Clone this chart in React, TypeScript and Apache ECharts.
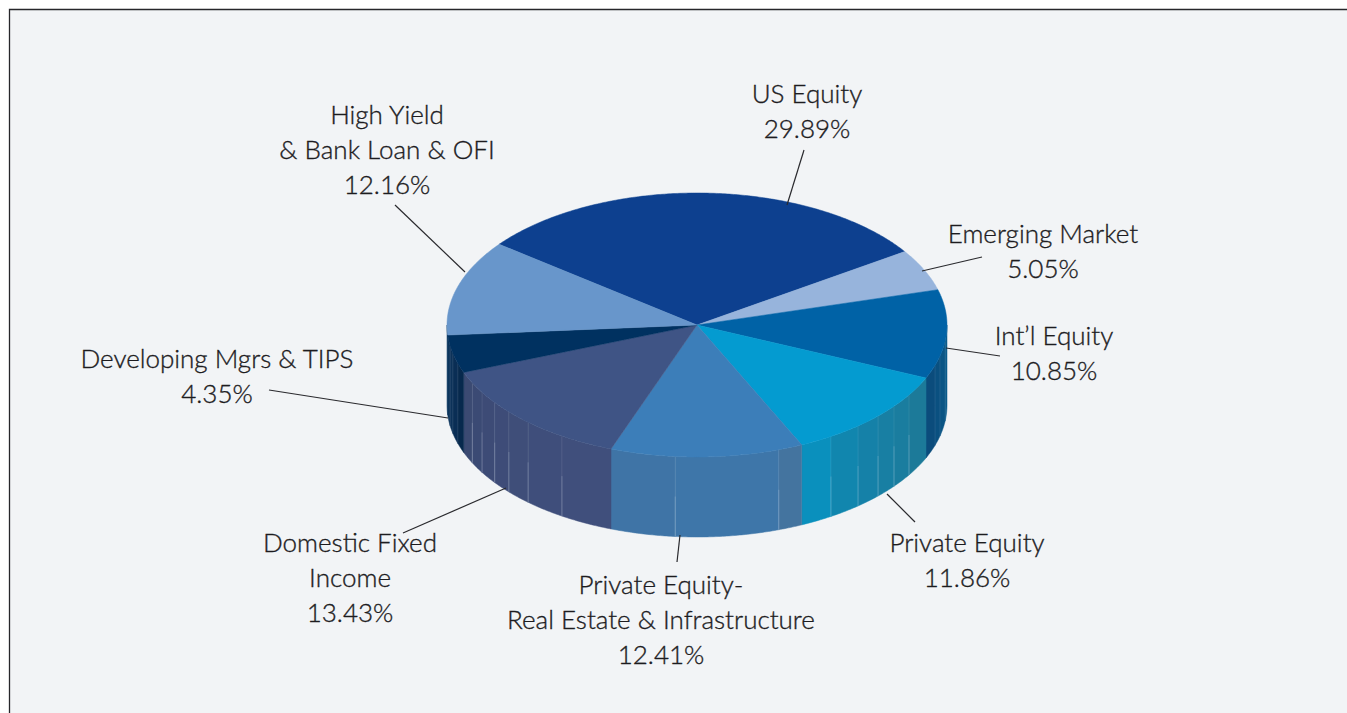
import React, { useEffect, useRef } from "react";
import * as echarts from "echarts";

const categories = ["US Equity", "Emerging Market", "Int\u2019l Equity", "Private Equity", "Private Equity-\nReal Estate & Infrastructure", "Domestic Fixed\nIncome", "Developing Mgrs & TIPS", "High Yield\n& Bank Loan & OFI"];
const values = [29.89, 5.05, 10.85, 11.86, 12.41, 13.43, 4.35, 12.16];
const topColors = ["#0d408f", "#97b4dc", "#0062a6", "#049bd0", "#3c7eb9", "#3f5485", "#003160", "#6896cb"];

// small per-boundary correction (degrees) for the picture's projection of the disc
const boundaryWarp = [-1.7, -0.8, -0.7, -0.6, -1.7, -1.5, -1, 0, -1.7];

// interior facet edges on the rim (degrees clockwise from top) and their shades
const facetEdges = [
  [],
  [],
  [90, 97, 103.6, 107.8],
  [122, 128, 133.6, 139.9, 147.6],
  [160.9, 185],
  [212.7, 222.5, 228.8, 234, 239.3, 244],
  [253, 257.5, 261],
  [],
];
const facetColors = [
  [],
  [],
  ["#0a5b8b", "#0a5585", "#0a5080", "#0b4c7c"],
  ["#1c7a99", "#1a7d9f", "#187fa3", "#1581a8", "#1186ae", "#0a90bd"],
  ["#44749f", "#3e76a9", "#3f74a6"],
  ["#404f7c", "#3f4e7b", "#3f4e79", "#3e4c78", "#3d4b76", "#3b4a74", "#3b4a72"],
  ["#07294d", "#0a2e55", "#0c3259", "#0d355c"],
  ["#0f3a63"],
];

const labelAnchors = [
  [807, 75], [1043, 215], [1054, 317], [967, 524], [661, 566], [350, 524], [217, 340], [387, 96],
];
const leaders = [
  [787, 205, 804, 150], [922, 271, 982, 257], [946, 348, 1000, 356], [887, 494, 915, 522],
  [680, 535, 677, 562], [506, 488, 403, 533], [448, 418, 269, 390], [465, 272, 395, 205],
];

const CX = 697, CY = 325, RX = 250, RY = 132, DEPTH = 80, START = -50.6;
const total = values.reduce((a, b) => a + b, 0);
const boundary = (i: number) => {
  const before = values.slice(0, i).reduce((a, b) => a + b, 0);
  return START + (before / total) * 360 + boundaryWarp[i];
};
const rim = (deg: number, dy = 0) => {
  const r = (deg * Math.PI) / 180;
  return [CX + RX * Math.sin(r), CY - RY * Math.cos(r) + dy];
};
const arc = (a: number, b: number, dy = 0) => {
  const pts: number[][] = [];
  const n = Math.max(2, Math.ceil(Math.abs(b - a) / 0.5));
  for (let i = 0; i <= n; i++) pts.push(rim(a + ((b - a) * i) / n, dy));
  return pts;
};

function renderTop(params: any) {
  const i = params.dataIndex;
  return {
    type: "polygon",
    shape: { points: [[CX, CY], ...arc(boundary(i), boundary(i + 1))] },
    style: { fill: topColors[i], stroke: topColors[i], lineWidth: 0.5 },
  };
}

function renderSide(params: any) {
  const i = params.dataIndex;
  const a = Math.max(boundary(i), 90);
  const b = Math.min(boundary(i + 1), 270);
  if (a >= b) return { type: "group", children: [] };
  const edges = [a, ...facetEdges[i].filter((e) => e > a && e < b), b];
  const children: any[] = [];
  for (let k = 0; k + 1 < edges.length; k++) {
    const top = arc(edges[k], edges[k + 1]);
    const bottom = arc(edges[k + 1], edges[k], DEPTH);
    const col = facetColors[i][k] || facetColors[i][facetColors[i].length - 1];
    children.push({
      type: "polygon",
      shape: { points: [...top, ...bottom] },
      style: { fill: col, stroke: col, lineWidth: 0.5 },
    });
    if (k > 0) {
      const p = rim(edges[k]);
      const mid = p[1] + DEPTH * 0.5;
      children.push(
        { type: "line", shape: { x1: p[0], y1: p[1], x2: p[0], y2: mid }, style: { stroke: "rgba(225,235,245,0.1)", lineWidth: 1 } },
        { type: "line", shape: { x1: p[0], y1: mid, x2: p[0], y2: p[1] + DEPTH }, style: { stroke: i === 2 || i === 6 ? "rgba(225,235,245,0.1)" : "rgba(225,235,245,0.3)", lineWidth: 1 } }
      );
    }
  }
  return { type: "group", children };
}

const FONT = "Lato";
const graphics: any[] = [
  { type: "rect", z: -1, shape: { x: 9.5, y: 9.5, width: 1400, height: 800 }, style: { fill: "#f2f4f6", stroke: "#26262a", lineWidth: 1.3 } },
  ...leaders.map((l) => ({
    type: "line", z: 5,
    shape: { x1: l[0], y1: l[1], x2: l[2], y2: l[3] },
    style: { stroke: "#2a2a2e", lineWidth: 1.2 },
  })),
  ...categories.map((c, i) => ({
    type: "text", z: 6,
    x: labelAnchors[i][0], y: labelAnchors[i][1],
    style: {
      text: `${c}\n${values[i].toFixed(2)}%`,
      fill: "#1d1c1f", stroke: "#1d1c1f", lineWidth: 0.35, font: `300 26px ${FONT}`, lineHeight: 35,
      align: "center", verticalAlign: "top", textAlign: "center",
    },
  })),
];

export default function App() {
  const ref = useRef<HTMLDivElement>(null);
  useEffect(() => {
    document.body.style.margin = "0";
    document.body.style.background = "#fff";
    const chart = echarts.init(ref.current!, undefined, { renderer: "svg" });
    const data = values.map((v, i) => ({ name: categories[i], value: v }));
    chart.setOption({
      animation: false,
      backgroundColor: "#ffffff",
      graphic: { elements: graphics },
      series: [
        { type: "custom", coordinateSystem: "none", name: "side", z: 2, data, renderItem: renderSide, silent: true },
        { type: "custom", coordinateSystem: "none", name: "top", z: 3, data, renderItem: renderTop, silent: true },
      ],
    });
    return () => chart.dispose();
  }, []);
  return <div ref={ref} style={{ width: 1347, height: 713 }} />;
}
